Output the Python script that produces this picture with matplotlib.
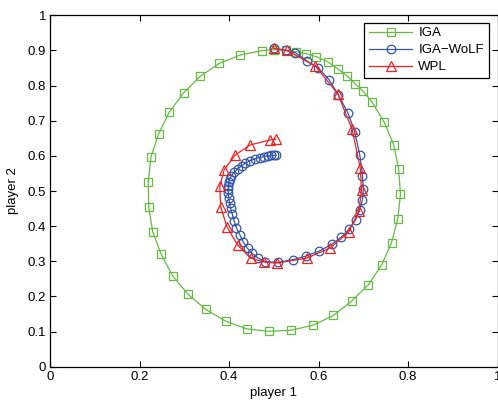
import numpy as np
import matplotlib
matplotlib.use('Agg')
import matplotlib.pyplot as plt

plt.rcParams['font.family'] = ['Liberation Sans', 'DejaVu Sans']

# IGA: closed orbit (clockwise, starts at top)
iga_x = [0.500, 0.526, 0.550, 0.571, 0.595, 0.621, 0.643, 0.664, 0.682, 0.700,
         0.719, 0.747, 0.768, 0.779, 0.783, 0.777, 0.763, 0.741, 0.711, 0.674,
         0.633, 0.587, 0.538, 0.488, 0.439, 0.392, 0.348, 0.308, 0.274, 0.248,
         0.229, 0.220, 0.219, 0.225, 0.242, 0.266, 0.298, 0.335, 0.378, 0.425,
         0.473, 0.500]
iga_y = [0.902, 0.900, 0.896, 0.891, 0.882, 0.867, 0.847, 0.827, 0.805, 0.783,
         0.754, 0.695, 0.631, 0.562, 0.491, 0.421, 0.353, 0.290, 0.233, 0.187,
         0.146, 0.118, 0.104, 0.101, 0.108, 0.130, 0.163, 0.206, 0.258, 0.320,
         0.384, 0.455, 0.526, 0.596, 0.662, 0.724, 0.779, 0.826, 0.863, 0.887,
         0.899, 0.902]

# IGA-WoLF: spirals inward
wolf_x = [0.500, 0.526, 0.548, 0.575, 0.599, 0.623, 0.644, 0.666, 0.681, 0.692,
          0.698, 0.700, 0.698, 0.692, 0.683, 0.668, 0.651, 0.629, 0.601, 0.572,
          0.543, 0.509, 0.481, 0.465, 0.451, 0.441, 0.431, 0.424, 0.416, 0.411,
          0.407, 0.403, 0.401, 0.399, 0.398, 0.398, 0.398, 0.399, 0.401, 0.405,
          0.411, 0.419, 0.428, 0.436, 0.446, 0.457, 0.468, 0.478, 0.486, 0.493,
          0.500, 0.505]
wolf_y = [0.906, 0.900, 0.893, 0.869, 0.850, 0.817, 0.774, 0.721, 0.667, 0.603,
          0.544, 0.505, 0.475, 0.446, 0.418, 0.391, 0.369, 0.348, 0.329, 0.315,
          0.305, 0.297, 0.299, 0.309, 0.323, 0.337, 0.356, 0.375, 0.396, 0.415,
          0.434, 0.451, 0.465, 0.479, 0.494, 0.506, 0.515, 0.525, 0.534, 0.544,
          0.553, 0.563, 0.572, 0.579, 0.586, 0.591, 0.595, 0.598, 0.600, 0.601,
          0.601, 0.602]

# WPL
wpl_x = [0.500, 0.529, 0.593, 0.643, 0.675, 0.693, 0.696, 0.690, 0.667, 0.626,
         0.573, 0.507, 0.478, 0.448, 0.419, 0.395, 0.381, 0.379, 0.389, 0.414,
         0.447, 0.491, 0.504]
wpl_y = [0.906, 0.900, 0.855, 0.776, 0.675, 0.566, 0.502, 0.443, 0.383, 0.338,
         0.309, 0.295, 0.298, 0.309, 0.346, 0.398, 0.455, 0.513, 0.561, 0.603,
         0.631, 0.645, 0.647]

fig = plt.figure(figsize=(4.98, 4.0), dpi=100)
ax = fig.add_axes([0.101, 0.083, 0.898, 0.879])

ax.plot(iga_x, iga_y, color='#66bb44', lw=0.9, marker='s', ms=6,
        mfc='none', mew=0.9, label='IGA')
ax.plot(wolf_x, wolf_y, color='#3355aa', lw=0.9, marker='o', ms=6.2,
        mfc='none', mew=0.9, label='IGA\u2212WoLF')
ax.plot(wpl_x, wpl_y, color='#ee2222', lw=0.9, marker='^', ms=7.5,
        mfc='none', mew=0.9, label='WPL')

ax.set_xlim(0, 1)
ax.set_ylim(0, 1)
ax.set_xticks(np.arange(0, 1.01, 0.2))
ax.set_xticklabels(['0', '0.2', '0.4', '0.6', '0.8', '1'])
ax.set_yticks(np.arange(0, 1.01, 0.1))
ax.set_yticklabels(['0', '0.1', '0.2', '0.3', '0.4', '0.5', '0.6', '0.7',
                    '0.8', '0.9', '1'])
ax.tick_params(direction='in', top=True, right=True, length=4, width=0.8,
               labelsize=9.5, pad=3)
for s in ax.spines.values():
    s.set_linewidth(0.9)
ax.set_xlabel('player 1', fontsize=9.5, labelpad=3)
ax.set_ylabel('player 2', fontsize=9.5, labelpad=6)

leg = ax.legend(loc='upper right', bbox_to_anchor=(0.980, 0.979),
                borderaxespad=0, fontsize=9.5, handlelength=3.3,
                handletextpad=0.45, labelspacing=0.35, borderpad=0.35,
                fancybox=False, framealpha=1)
leg.get_frame().set_edgecolor('black')
leg.get_frame().set_linewidth(0.9)

fig.savefig('out.png', dpi=100)
